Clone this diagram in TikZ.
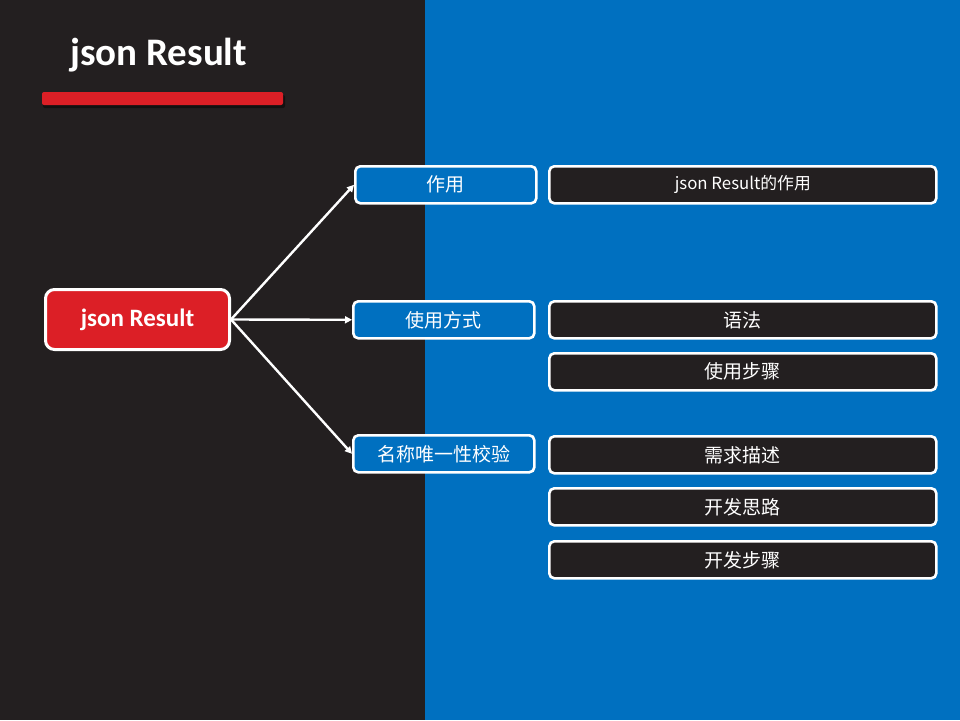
\documentclass[tikz,border=0pt]{standalone}
\usepackage{fontspec}
\setmainfont{Carlito}
\newfontfamily\cjk{Noto Sans CJK SC}
\usetikzlibrary{arrows.meta}
\definecolor{darkbg}{HTML}{231F20}
\definecolor{bluebg}{HTML}{0070C0}
\definecolor{redc}{HTML}{DC1F26}
\tikzset{
  box/.style={draw=white, line width=2.6pt, rounded corners=5pt, text=white, inner sep=0pt, anchor=north west},
  midbox/.style={box, fill=bluebg, minimum width=181pt, minimum height=37pt, font=\cjk\fontsize{19}{22}\selectfont},
  rightbox/.style={box, fill=darkbg, minimum width=387pt, minimum height=37pt, font=\cjk\fontsize{19}{22}\selectfont},
  conn/.style={draw=white, line width=2.4pt, -{Triangle[length=7pt,width=7pt]}}
}
\begin{document}
\begin{tikzpicture}[x=1pt,y=-1pt]
\useasboundingbox (0,0) rectangle (960,720);
\fill[darkbg] (0,0) rectangle (425,720);
\fill[bluebg] (425,0) rectangle (960,720);
% title
\node[anchor=base west, text=white, font=\bfseries\fontsize{39}{44}\selectfont, inner sep=0pt] (title) at (70,65) {json Result};
\fill[black, opacity=0.45, rounded corners=2pt] (43,95) rectangle (285,108);
\fill[redc, rounded corners=2pt] (42,92) rectangle (283,105);
% main
\node[box, fill=redc, minimum width=184pt, minimum height=60pt, rounded corners=9pt, font=\bfseries\fontsize{25}{28}\selectfont, line width=3pt] (main) at (44,288) {json Result};
% mid
\node[midbox] (m1) at (354,165) {作用};
\node[midbox] (m2) at (352,300) {使用方式};
\node[midbox] (m3) at (352,434) {名称唯一性校验};
% right
\node[rightbox, font=\cjk\fontsize{16.8}{20}\selectfont] (r1) at (548,165) {json Result的作用};
\node[rightbox] (r2) at (548,300) {语法};
\node[rightbox] (r3) at (548,352) {使用步骤};
\node[rightbox] (r4) at (548,435) {需求描述};
\node[rightbox] (r5) at (548,487) {开发思路};
\node[rightbox] (r6) at (548,540) {开发步骤};
% connectors
\draw[conn] (main.east) -- (m1.west);
\draw[conn] (main.east) -- (m2.west);
\draw[conn] (main.east) -- (m3.west);
\end{tikzpicture}
\end{document}
